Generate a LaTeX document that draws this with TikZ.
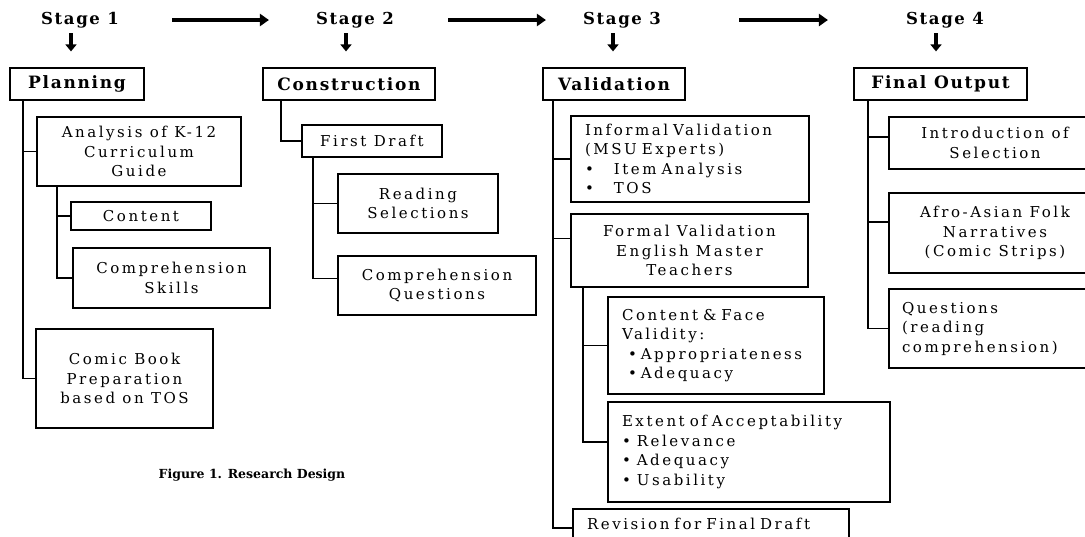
\documentclass[tikz,border=0pt]{standalone}
\usepackage{fontspec}
\setmainfont{DejaVu Serif}
\newfontfamily\spacedfont{DejaVu Serif}[LetterSpace=17]
\newfontfamily\headfont{DejaVu Serif}[LetterSpace=10]
\usetikzlibrary{arrows.meta}

\begin{document}
\begin{tikzpicture}[x=1pt,y=-1pt,
    box/.style={draw,line width=1.2pt,inner sep=0pt,align=center,
      font=\spacedfont\fontsize{15}{19.5}\selectfont},
    leftbox/.style={box,align=left,inner xsep=14pt},
    headbox/.style={box,font=\headfont\bfseries\fontsize{17}{20}\selectfont},
    stage/.style={inner sep=0pt,font=\headfont\bfseries\fontsize{16.5}{20}\selectfont},
    downarrow/.style={line width=3.5pt,-{Triangle[width=11pt,length=7pt]}},
    bigarrow/.style={line width=4.5pt,-{Triangle[width=12pt,length=9pt]}},
    spine/.style={line width=1.2pt}]
    \useasboundingbox (0,0) rectangle (1085,536);
    \clip (0,0) rectangle (1085,536);
    % Stages
    \node[stage] (st1) at (80,20) {Stage 1};
    \node[stage] (st2) at (355,20) {Stage 2};
    \node[stage] (st3) at (622,20) {Stage 3};
    \node[stage] (st4) at (945,20) {Stage 4};
    \draw[bigarrow,shorten <=53pt,shorten >=47pt] (st1.east) -- (st2.west);
    \draw[bigarrow,shorten <=54pt,shorten >=37pt] (st2.east) -- (st3.west);
    \draw[bigarrow,shorten <=78pt,shorten >=78pt] (st3.east) -- (st4.west);
    % Head boxes
    \node[headbox,minimum width=134,minimum height=32] (plan) at (77,84) {Planning};
    \node[headbox,minimum width=172,minimum height=32] (cons) at (349,84) {Construction};
    \node[headbox,minimum width=142,minimum height=32] (vali) at (614,84) {Validation};
    \node[headbox,minimum width=173,minimum height=32] (fout) at (940.5,84) {Final Output};
    \foreach \s/\b in {st1/plan,st2/cons,st3/vali,st4/fout}
      \draw[downarrow,shorten <=5pt,shorten >=16pt]
        ([xshift=-9pt]\s.south) -- ([xshift=-9pt]\s.south |- \b.north);
    % Stage 1: planning
    \node[box,minimum width=204,minimum height=69] (ana) at (139,151.5)
      {Analysis of K-12\\Curriculum\\Guide};
    \node[box,minimum width=140,minimum height=28] (cont) at (141,216) {Content};
    \node[box,minimum width=197,minimum height=60] (cskill) at (171.5,278)
      {Comprehension\\Skills};
    \node[box,minimum width=177,minimum height=99] (comic) at (124.5,378.5)
      {Comic Book\\Preparation\\based on TOS};
    \coordinate (p1) at (23,100);
    \coordinate (a1) at (57,186);
    \draw[spine] (p1) |- (ana.west);
    \draw[spine] (p1) |- (comic.west);
    \draw[spine] (a1) |- (cont.west);
    \draw[spine] (a1) |- (cskill.west);
    \node[font=\bfseries\fontsize{12.5}{15}\selectfont] (cap) at (252,475)
      {Figure 1. Research Design};
    % Stage 2: construction
    \node[box,minimum width=140,minimum height=32] (fdraft) at (372,141) {First Draft};
    \node[box,minimum width=160,minimum height=59] (rsel) at (418,203.5)
      {Reading\\Selections};
    \node[box,minimum width=198,minimum height=59] (cq) at (437,285.5)
      {Comprehension\\Questions};
    \coordinate (c1) at (281,100);
    \coordinate (d1) at (313,157);
    \draw[spine] (c1) |- (fdraft.west);
    \draw[spine] (d1) |- (rsel.west);
    \draw[spine] (d1) |- ([yshift=7pt]cq.west);
    % Stage 3: validation
    \node[leftbox,minimum width=238,minimum height=86,text width=210] (inf) at (690,159)
      {Informal Validation\\(MSU Experts)\\\textbullet\hspace{20pt}Item Analysis\\
       \textbullet\hspace{20pt}TOS};
    \node[box,minimum width=237,minimum height=73] (form) at (689.5,250.5)
      {Formal Validation\\English Master\\Teachers};
    \node[leftbox,minimum width=216,minimum height=97,text width=188] (cfv) at (716,345.5)
      {Content \& Face\\Validity:\\\hspace{6pt}\textbullet\hspace{4pt}Appropriateness\\
       \hspace{6pt}\textbullet\hspace{4pt}Adequacy};
    \node[leftbox,minimum width=282,minimum height=100,text width=254] (ext) at (749,452)
      {Extent of Acceptability\\\textbullet\hspace{6pt}Relevance\\
       \textbullet\hspace{6pt}Adequacy\\\textbullet\hspace{6pt}Usability};
    \node[leftbox,minimum width=276,minimum height=30,text width=248] (rev) at (711,524)
      {Revision for Final Draft};
    \coordinate (v1) at (553,100);
    \coordinate (w1) at (583,287);
    \draw[spine] (v1) |- (inf.west);
    \draw[spine] (v1) |- ([yshift=12pt]form.west);
    \draw[spine] (v1) |- ([yshift=-4pt]rev.west);
    \draw[spine] (w1) |- (cfv.west);
    \draw[spine] (w1) |- ([yshift=10pt]ext.west);
    % Stage 4: final output
    \node[box,minimum width=212,minimum height=52] (intro) at (995,143)
      {Introduction of\\Selection};
    \node[box,minimum width=212,minimum height=80] (afro) at (995,233)
      {Afro-Asian Folk\\Narratives\\(Comic Strips)};
    \node[leftbox,inner xsep=13pt,minimum width=212,minimum height=79,text width=186] (ques) at (995,328.5)
      {Questions\\(reading\\comprehension)};
    \coordinate (g1) at (868,100);
    \draw[spine] (g1) |- ([yshift=6pt]intro.west);
    \draw[spine] (g1) |- ([yshift=11pt]afro.west);
    \draw[spine] (g1) |- (ques.west);
\end{tikzpicture}
\end{document}
